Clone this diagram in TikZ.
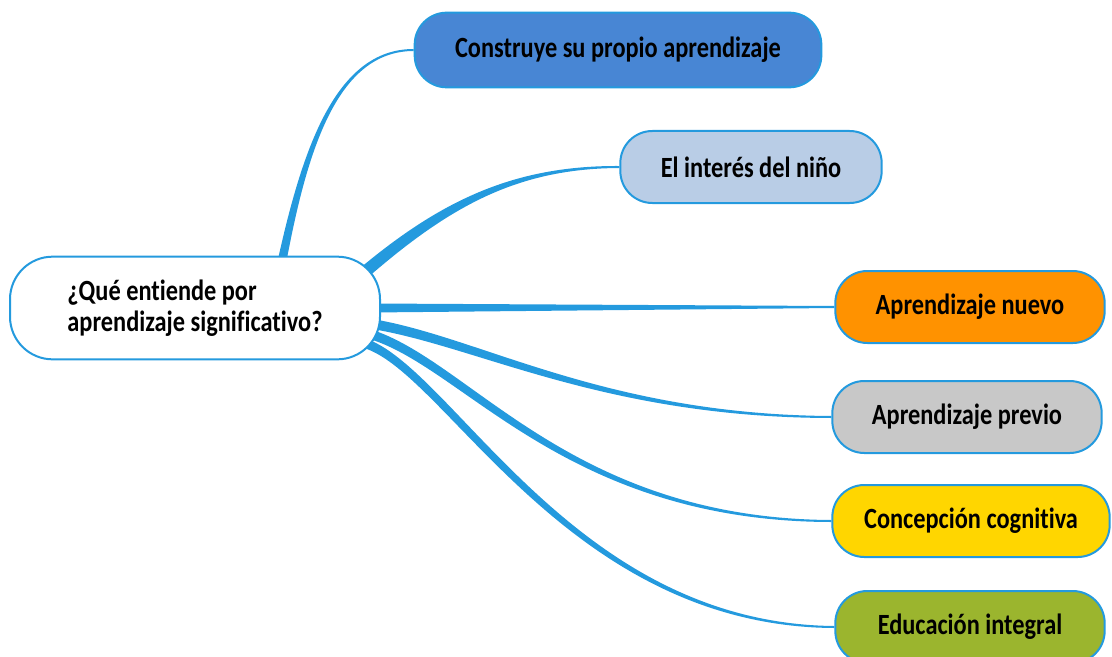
\documentclass[tikz,border=0pt]{standalone}
\usepackage{fontspec}
\setmainfont{Carlito}[FakeStretch=0.83, RawFeature=-liga]
\usetikzlibrary{backgrounds}

\definecolor{linkblue}{RGB}{36,154,222}
\definecolor{boxblue}{RGB}{72,134,212}
\definecolor{boxlight}{RGB}{185,205,230}
\definecolor{boxorange}{RGB}{255,146,0}
\definecolor{boxgray}{RGB}{200,200,200}
\definecolor{boxyellow}{RGB}{255,214,0}
\definecolor{boxgreen}{RGB}{155,181,46}

\begin{document}
\begin{tikzpicture}[
    x=0.75pt, y=-0.75pt, % one unit = one pixel of the sketch
    font=\fontsize{22}{23}\selectfont\bfseries,
    root/.style = {draw=linkblue, line width=1.5pt, fill=white, rounded corners=32pt,
                   minimum width=277.5pt, minimum height=77pt, align=left},
    topic/.style = {draw=linkblue, line width=1.5pt, rounded corners=24pt,
                    minimum height=54pt, text=black},
    branch/.style = {fill=linkblue}
    ]
    \useasboundingbox (0,0) rectangle (1112,656);

    \node[root] (Q) at (195,308) {¿Qué entiende por\\aprendizaje significativo?};
    \node[topic, fill=boxblue, minimum width=305pt, minimum height=56pt] (c1) at (618,50) {Construye su propio aprendizaje};
    \node[topic, fill=boxlight, minimum width=196pt] (c2) at (751,167) {El interés del niño};
    \node[topic, fill=boxorange, minimum width=202pt] (c3) at (970,307) {Aprendizaje nuevo};
    \node[topic, fill=boxgray, minimum width=202pt] (c4) at (967,417) {Aprendizaje previo};
    \node[topic, fill=boxyellow, minimum width=208pt] (c5) at (971,521) {Concepción cognitiva};
    \node[topic, fill=boxgreen, minimum width=202pt] (c6) at (970,627) {Educación integral};

    % tapering branches, behind the boxes
    \begin{scope}[on background layer]
    \fill[branch] ([shift={(82,8)}]Q.north) .. controls (302,150) and (335,49) .. ([shift={(0,-1)}]c1.west)
        -- ([shift={(0,1)}]c1.west) .. controls (337,51) and (307,151) .. ([shift={(91,8)}]Q.north) -- cycle;
    \fill[branch] ([shift={(-18,10)}]Q.north east) .. controls (447,196) and (520,165.5) .. ([shift={(0,-1)}]c2.west)
        -- ([shift={(0,1)}]c2.west) .. controls (520,168.5) and (453,204) .. ([shift={(-10,19)}]Q.north east) -- cycle;
    \fill[branch] ([shift={(-10,-4.5)}]Q.east) -- ([shift={(0,-1)}]c3.west)
        -- ([shift={(0,1)}]c3.west) -- ([shift={(-10,4.5)}]Q.east) -- cycle;
    \fill[branch] ([shift={(-15,10)}]Q.east) .. controls (476,334) and (600,414.5) .. ([shift={(0,-1)}]c4.west)
        -- ([shift={(0,1)}]c4.west) .. controls (600,417.5) and (474,344) .. ([shift={(-15,20)}]Q.east) -- cycle;
    \fill[branch] ([shift={(-15,20)}]Q.east) .. controls (468,356) and (567,518.5) .. ([shift={(0,-1)}]c5.west)
        -- ([shift={(0,1)}]c5.west) .. controls (563,521.5) and (462,364) .. ([shift={(-15,30)}]Q.east) -- cycle;
    \fill[branch] ([shift={(-17,30)}]Q.east) .. controls (453,366) and (572,623.5) .. ([shift={(0,-1)}]c6.west)
        -- ([shift={(0,1)}]c6.west) .. controls (568,626.5) and (447,374) .. ([shift={(-17,40)}]Q.east) -- cycle;
    \end{scope}
\end{tikzpicture}
\end{document}
